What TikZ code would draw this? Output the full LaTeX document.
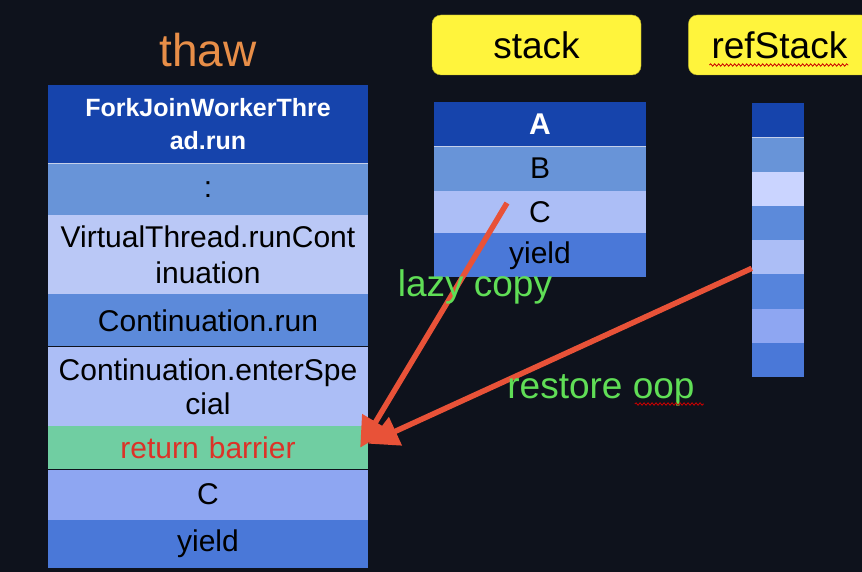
\documentclass[tikz,border=0pt]{standalone}
\usepackage{fontspec}
\setmainfont{Liberation Sans}
\usetikzlibrary{positioning,arrows.meta,decorations.pathmorphing}
\definecolor{slidebg}{RGB}{14,18,28}
\definecolor{framedark}{RGB}{22,68,172}
\definecolor{framemid}{RGB}{104,148,216}
\definecolor{framepale}{RGB}{186,200,246}
\definecolor{framerun}{RGB}{92,138,218}
\definecolor{framelight}{RGB}{172,190,246}
\definecolor{framebarrier}{RGB}{112,206,162}
\definecolor{framesky}{RGB}{142,166,242}
\definecolor{frameyield}{RGB}{74,120,216}
\definecolor{refpale}{RGB}{202,212,255}
\definecolor{refmid}{RGB}{86,132,220}
\definecolor{labelyellow}{RGB}{255,244,60}
\definecolor{thaworange}{RGB}{232,142,72}
\definecolor{arrowred}{RGB}{232,82,56}
\definecolor{notegreen}{RGB}{96,222,86}
\definecolor{barriertext}{RGB}{220,50,40}

\begin{document}
\begin{tikzpicture}[
x=1pt, y=1pt,
node distance=0pt,
framebox/.style={minimum width=320pt, text width=316pt, inner sep=0pt, align=center, font=\fontsize{30}{34}\selectfont},
slot/.style={minimum width=212pt, minimum height=#1, inner sep=0pt, font=\fontsize{30}{34}\selectfont},
refslot/.style={minimum width=52pt, minimum height=34.25pt, inner sep=0pt},
tagbox/.style={fill=labelyellow, draw=labelyellow!70!black, thin, rounded corners=9pt, minimum height=60pt, inner sep=0pt, font=\fontsize{37}{40}\selectfont},
notetext/.style={text=notegreen, anchor=base, inner sep=0pt, font=\fontsize{37}{40}\selectfont},
copyarr/.style={draw=arrowred, line width=5.5pt, -{Triangle[length=30pt,width=30pt]}},
squiggle/.style={draw=red!80!black, line width=0.8pt, decorate, decoration={snake, amplitude=1.2pt, segment length=4pt}},
seam/.style={draw=white!75!framedark, line width=1.5pt}
]
\path[use as bounding box, fill=slidebg] (0,0) rectangle (862,-572);
\clip (0,0) rectangle (862,-572);

% thawed frames
\node[anchor=base, inner sep=0pt, text=thaworange, font=\fontsize{46}{50}\selectfont] (thaw) at (208,-67) {thaw};
\node[framebox, fill=framedark, text=white, minimum height=78pt, anchor=north, font=\bfseries\fontsize{25}{33}\selectfont] (fj) at (208,-85) {ForkJoinWorkerThre\\ad.run};
\node[framebox, fill=framemid, minimum height=51pt, below=of fj] (dots) {:};
\node[framebox, fill=framepale, minimum height=79pt, below=of dots, font=\fontsize{30}{36}\selectfont] (vt) {VirtualThread.runCont\\inuation};
\node[framebox, fill=framerun, minimum height=52pt, below=of vt] (crun) {Continuation.run};
\node[framebox, fill=framelight, minimum height=79pt, below=of crun] (ces) {Continuation.enterSpe\\cial};
\node[framebox, fill=framebarrier, minimum height=43pt, below=of ces, text=barriertext] (rb) {return barrier};
\node[framebox, fill=framesky, minimum height=50pt, below=of rb] (fc) {C};
\node[framebox, fill=frameyield, minimum height=48pt, below=of fc] (fy) {yield};
\draw[seam] (fj.south west) -- (fj.south east);

% heap chunk
\node[tagbox, minimum width=209pt] (stacktag) at (536.5,-45) {stack};
\node[tagbox, minimum width=182pt, right=47pt of stacktag] (reftag) {refStack};
\node[slot=44pt, fill=framedark, text=white, anchor=north, font=\bfseries\fontsize{30}{34}\selectfont] (sa) at (540,-102) {A};
\node[slot=44pt, fill=framemid, below=of sa] (sb) {B};
\node[slot=42pt, fill=framelight, below=of sb] (sc) {C};
\node[slot=44pt, fill=frameyield, below=of sc] (sy) {yield};
\draw[seam] (sa.south west) -- (sa.south east);

\foreach \c [count=\i] in {framedark,framemid,refpale,framerun,framelight,refmid,framesky,frameyield}
  \node[refslot, fill=\c, anchor=north] (r\i) at (778,{-103-34.25*(\i-1)}) {};
\draw[seam] (r1.south west) -- (r1.south east);

% copying back
\coordinate (lazyfrom) at ([xshift=-33pt,yshift=9pt]sc.center);
\draw[copyarr] (lazyfrom) -- ([xshift=-8pt]rb.east);
\draw[copyarr] ([yshift=-11pt]r5.west) -- ([yshift=4pt]rb.east);

\node[notetext] (lazylbl) at (475,-296) {lazy copy};
\node[notetext] (restorelbl) at (601,-398) {restore oop};

\draw[squiggle] ([xshift=-70pt,yshift=-20pt]reftag.center) -- ([xshift=69pt,yshift=-20pt]reftag.center);
\draw[squiggle] ([xshift=-60pt,yshift=-6pt]restorelbl.base east) -- ([xshift=9pt,yshift=-6pt]restorelbl.base east);
\end{tikzpicture}
\end{document}
